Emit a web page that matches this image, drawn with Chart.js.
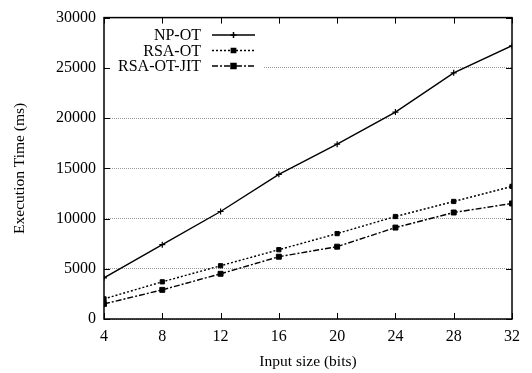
<!DOCTYPE html>
<html>
<head>
<meta charset="utf-8">
<script src="https://cdn.jsdelivr.net/npm/chart.js@4/dist/chart.umd.min.js"></script>
<style>
html,body{margin:0;padding:0;background:#fff;}
#wrap{width:532px;height:373px;position:relative;}
</style>
</head>
<body>
<div id="wrap"><canvas id="c" width="532" height="373"></canvas></div>
<script>
const categories = [4, 8, 12, 16, 20, 24, 28, 32];
const npOT = [4100, 7400, 10700, 14400, 17400, 20600, 24500, 27200];
const rsaOT = [2000, 3700, 5300, 6900, 8500, 10200, 11700, 13200];
const rsaOTJIT = [1500, 2900, 4500, 6200, 7200, 9100, 10600, 11500];
const seriesNames = ['NP-OT', 'RSA-OT', 'RSA-OT-JIT'];
const yTicks = [0, 5000, 10000, 15000, 20000, 25000, 30000];
const xTitle = 'Input size (bits)';
const yTitle = 'Execution Time (ms)';

const FONT = "'Liberation Serif', 'Times New Roman', serif";

function pts(arr){ return arr.map((v,i)=>({x:categories[i], y:v})); }

const framePlugin = {
  id: 'frame',
  beforeDatasetsDraw(chart){
    const ctx = chart.ctx, a = chart.chartArea;
    ctx.save();
    ctx.fillStyle = '#fff';
    ctx.fillRect(a.left + 2, a.top + 20, 157, 54);
    ctx.restore();
  },
  afterDraw(chart){
    const ctx = chart.ctx, a = chart.chartArea;
    const xs = chart.scales.x, ys = chart.scales.y;
    ctx.save();
    ctx.strokeStyle = '#000';
    ctx.lineWidth = 1;
    const tl = 6;
    ctx.beginPath();
    yTicks.forEach(v=>{
      const py = Math.round(ys.getPixelForValue(v)) + 0.5;
      ctx.moveTo(a.left, py); ctx.lineTo(a.left + tl, py);
      ctx.moveTo(a.right, py); ctx.lineTo(a.right - tl, py);
    });
    categories.forEach(v=>{
      const px = Math.round(xs.getPixelForValue(v)) + 0.5;
      ctx.moveTo(px, a.bottom); ctx.lineTo(px, a.bottom - tl);
      ctx.moveTo(px, a.top); ctx.lineTo(px, a.top + tl);
    });
    ctx.stroke();
    ctx.lineWidth = 1.5;
    ctx.strokeRect(a.left, a.top, a.right - a.left, a.bottom - a.top);

    ctx.font = '16px ' + FONT;
    ctx.fillStyle = '#000';
    ctx.textAlign = 'right';
    ctx.textBaseline = 'middle';
    const rows = [35, 50.5, 66];
    chart.data.datasets.forEach((ds, i)=>{
      const y = rows[i];
      ctx.fillText(ds.label, 201, y + 1);
      ctx.save();
      ctx.lineWidth = ds.borderWidth;
      ctx.setLineDash(ds.borderDash || []);
      ctx.beginPath();
      ctx.moveTo(212, y); ctx.lineTo(255, y);
      ctx.stroke();
      ctx.restore();
      Chart.helpers.drawPoint(ctx, {pointStyle: ds.pointStyle, radius: ds.pointRadius, borderWidth: ds.pointBorderWidth || 1, rotation: 0}, 233.5, y);
    });
    ctx.restore();
  }
};

new Chart(document.getElementById('c'), {
  type: 'line',
  data: {
    datasets: [
      { label: seriesNames[0], data: pts(npOT), borderColor:'#000', backgroundColor:'#000', borderWidth:1.4,
        pointStyle:'cross', pointRadius:3, pointBorderWidth:1.2, pointBorderColor:'#000', fill:false, tension:0 },
      { label: seriesNames[1], data: pts(rsaOT), borderColor:'#000', backgroundColor:'#000', borderWidth:1.4, borderDash:[2,2],
        pointStyle:'rect', pointRadius:3, pointBorderWidth:1, pointBorderColor:'#000', fill:false, tension:0 },
      { label: seriesNames[2], data: pts(rsaOTJIT), borderColor:'#000', backgroundColor:'#000', borderWidth:1.4, borderDash:[6,2,2,2],
        pointStyle:'rect', pointRadius:3.5, pointBorderWidth:1, pointBorderColor:'#000', fill:false, tension:0 }
    ]
  },
  options: {
    responsive:false, animation:false,
    devicePixelRatio:1,
    layout:{ padding:{ left:0, right:20, top:7, bottom:0 } },
    plugins:{ legend:{display:false}, tooltip:{enabled:false} },
    scales:{
      x:{
        type:'linear', min:4, max:32,
        afterBuildTicks(s){ s.ticks = categories.map(v=>({value:v})); },
        afterFit(s){ s.height = 54; },
        grid:{ display:false, drawTicks:false },
        border:{ display:false },
        ticks:{ color:'#000', font:{family:FONT, size:16}, padding:8, maxRotation:0 },
        title:{ display:true, text:xTitle, color:'#000', font:{family:FONT, size:15.5}, padding:{top:0,bottom:2} }
      },
      y:{
        type:'linear', min:0, max:30000,
        afterBuildTicks(s){ s.ticks = yTicks.map(v=>({value:v})); },
        afterFit(s){ s.width = 104; },
        grid:{ display:true, color:'#999', lineWidth:1, drawTicks:false },
        border:{ display:false, dash:[1,1] },
        ticks:{ color:'#000', font:{family:FONT, size:16}, padding:8, callback:v=>String(v) },
        title:{ display:true, text:yTitle, color:'#000', font:{family:FONT, size:15.5}, padding:{top:11,bottom:10} }
      }
    }
  },
  plugins:[framePlugin]
});
</script>
</body>
</html>
